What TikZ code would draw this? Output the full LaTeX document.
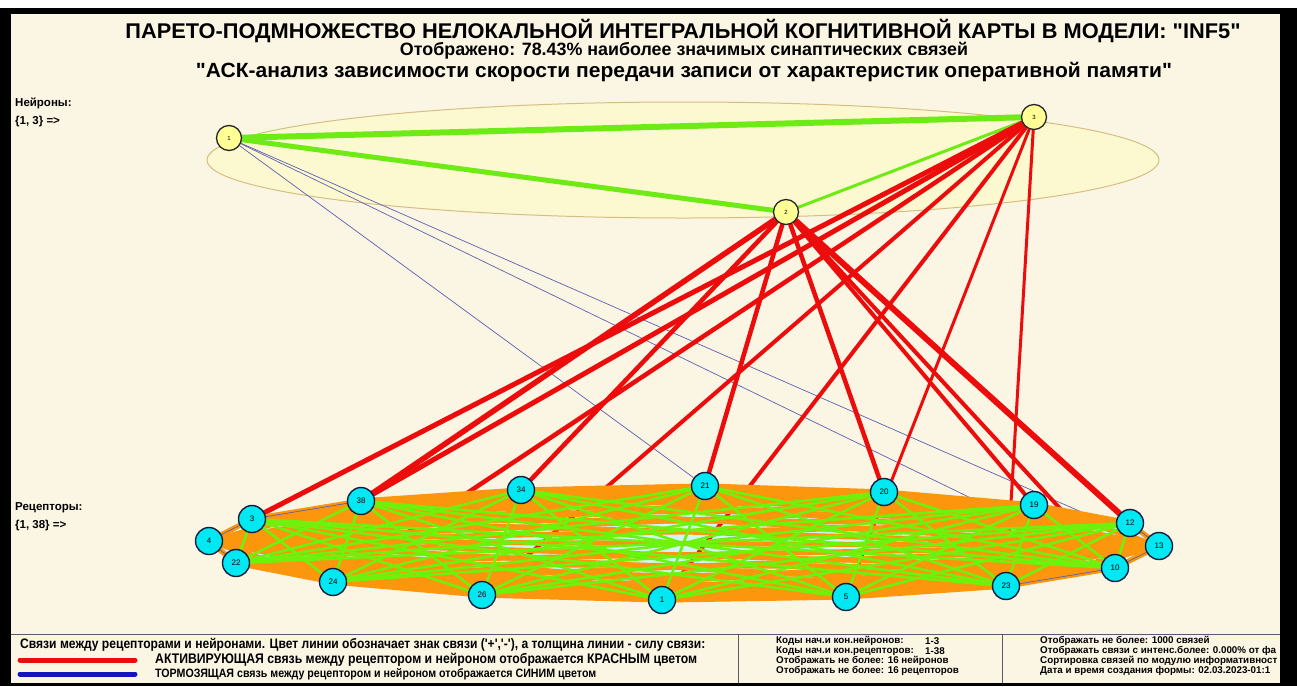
\documentclass[tikz,border=0pt]{standalone}
\usepackage{fontspec}
\setmainfont{Liberation Sans}
\newfontfamily\nar[FakeStretch=0.88]{Liberation Sans}
\newfontfamily\plain{Liberation Sans}
\usetikzlibrary{shapes.geometric}
\pgfdeclarelayer{back}
\pgfdeclarelayer{links}
\pgfdeclarelayer{meshl}
\pgfsetlayers{back,links,meshl,main}
\definecolor{bgc}{RGB}{251,245,228}
\definecolor{ellf}{RGB}{252,248,208}
\definecolor{elld}{RGB}{214,190,130}
\definecolor{neu}{RGB}{255,255,150}
\definecolor{recc}{RGB}{0,232,242}
\definecolor{recd}{RGB}{20,30,60}
\definecolor{meshor}{RGB}{252,150,12}
\definecolor{meshgr}{RGB}{110,242,12}
\definecolor{lcy}{RGB}{205,248,248}
\definecolor{redl}{RGB}{236,12,12}
\definecolor{bluel}{RGB}{95,95,175}
\definecolor{legblue}{RGB}{20,20,190}
\definecolor{neugr}{RGB}{110,235,20}
\definecolor{sepc}{RGB}{90,90,110}
\begin{document}
\begin{tikzpicture}[x=1pt,y=-1pt,
  neuron/.style={circle,draw=black!85,line width=1.3pt,fill=neu,minimum size=25pt,inner sep=0pt,font=\plain\fontsize{6}{6}\selectfont},
  receptor/.style={circle,draw=recd,line width=1.4pt,fill=recc,minimum size=27pt,inner sep=0pt,font=\plain\fontsize{8}{8}\selectfont},
  act/.style={draw=redl,line cap=round},
  inh/.style={draw=bluel,line width=0.7pt},
  nn/.style={draw=neugr,line cap=round},
  orline/.style={draw=meshor,line width=5.2pt},
  grline/.style={draw=meshgr,line width=2.6pt},
  lbl/.style={anchor=west,inner sep=0pt,font=\plain\bfseries\fontsize{11.5}{11.5}\selectfont},
  info/.style={anchor=west,inner sep=0pt,font=\plain\bfseries\fontsize{9.8}{9.8}\selectfont},
  ttl/.style={inner sep=0pt,anchor=base,font=\nar\bfseries\fontsize{22}{22}\selectfont},
  leg/.style={anchor=west,inner sep=0pt,font=\nar\bfseries\fontsize{11}{11}\selectfont}]
\useasboundingbox (0,0) rectangle (1297,686);
\begin{pgfonlayer}{back}
\fill[white] (0,0) rectangle (1297,686);
\fill[black] (0,8) rectangle (1297,686);
\fill[bgc] (11,14) rectangle (1280,683);
\draw[elld,fill=ellf,line width=1pt] (683,160) ellipse [x radius=476pt, y radius=58pt];
\draw[sepc,line width=1pt] (11,634) -- (1280,634);
\draw[sepc,line width=1pt] (738,634) -- (738,683);
\draw[sepc,line width=1pt] (1002,634) -- (1002,683);
\end{pgfonlayer}

% neurons
\node[neuron] (n1) at (229,138) {1};
\node[neuron] (n2) at (786,212) {2};
\node[neuron] (n3) at (1034,117) {3};

% receptors in hull order
\foreach \k/\x/\y/\t in {1/252/519/3, 2/361/501/38, 3/521/490/34, 4/705/486/21,
  5/884/492/20, 6/1034/505/19, 7/1130/523/12, 8/1159/546/13, 9/1115/568/10,
  10/1006/586/23, 11/846/597/5, 12/662/600/1, 13/482/595/26, 14/333/582/24,
  15/236/563/22, 16/209/541/4}
  \node[receptor,alias=r\t] (h\k) at (\x,\y) {\t};

% texts
\node[ttl] (t1) at (683,38) {\scalebox{1}[0.86]{\resizebox{1115pt}{!}{ПАРЕТО-ПОДМНОЖЕСТВО НЕЛОКАЛЬНОЙ ИНТЕГРАЛЬНОЙ КОГНИТИВНОЙ КАРТЫ В МОДЕЛИ: "INF5"}}};
\node[ttl] (t2) at (684,55) {\scalebox{1}[0.88]{\resizebox{568pt}{!}{Отображено: 78.43\% наиболее значимых синаптических связей}}};
\node[ttl] (t3) at (684,77) {\scalebox{1}[0.86]{\resizebox{976pt}{!}{"АСК-анализ зависимости скорости передачи записи от характеристик оперативной памяти"}}};
\node[lbl] (ln1) at (15,103) {Нейроны:};
\node[lbl] (ln2) at (15,122) {\{1, 3\} =>};
\node[lbl] (lr1) at (15,508) {Рецепторы:};
\node[lbl] (lr2) at (15,526) {\{1, 38\} =>};

% legend
\node[leg] (g1) at (20,645) {\resizebox{685pt}{!}{Связи между рецепторами и нейронами. Цвет линии обозначает знак связи ('+','-'), а толщина линии - силу связи:}};
\node[leg] (g2) at (155,660) {\resizebox{542pt}{!}{АКТИВИРУЮЩАЯ связь между рецептором и нейроном отображается КРАСНЫМ цветом}};
\node[leg] (g3) at (155,674) {\resizebox{441pt}{!}{ТОРМОЗЯЩАЯ связь между рецептором и нейроном отображается СИНИМ цветом}};
\coordinate (ra) at (20,660); \coordinate (rb) at (135,660);
\coordinate (ba) at (20,674); \coordinate (bb) at (135,674);
\draw[redl,line width=5pt,line cap=round] (ra) -- (rb);
\draw[legblue,line width=5pt,line cap=round] (ba) -- (bb);

\node[info] (m1) at (776,641) {Коды нач.и кон.нейронов:};
\node[info] (m1v) at (925,641) {1-3};
\node[info] (m2) at (776,651) {Коды нач.и кон.рецепторов:};
\node[info] (m2v) at (925,651) {1-38};
\node[info] (m3) at (776,661) {Отображать не более: 16 нейронов};
\node[info] (m4) at (776,671) {Отображать не более: 16 рецепторов};
\begin{scope}
\clip (1003,635) rectangle (1280,683);
\node[info] (q1) at (1040,641) {Отображать не более: 1000 связей};
\node[info] (q2) at (1040,651) {Отображать связи с интенс.более: 0.000\% от фа};
\node[info] (q3) at (1040,661) {Сортировка связей по модулю информативност};
\node[info] (q4) at (1040,671) {Дата и время создания формы: 02.03.2023-01:1};
\end{scope}

\begin{pgfonlayer}{back}
\fill[lcy] (h1.center) \foreach \k in {2,...,16}{ -- (h\k.center)} -- cycle;
\end{pgfonlayer}

\begin{pgfonlayer}{links}
% neuron-neuron
\draw[nn,line width=6pt] (n1) -- (n3);
\draw[nn,line width=5pt] (n1) -- (n2);
\draw[nn,line width=3pt] (n2) -- (n3);
% inhibitory
\draw[inh] (n1) -- (r21);
\draw[inh] (n1) -- (r10);
\draw[inh] (n1) -- (r13);
% activating from neuron 3
\draw[act,line width=5pt] (n3) -- (r3);
\draw[act,line width=5pt] (n3) -- (r38);
\draw[act,line width=4.5pt] (n3) -- (r24);
\draw[act,line width=4pt] (n3) -- (r26);
\draw[act,line width=4pt] (n3) -- (r1);
\draw[act,line width=3pt] (n3) -- (r5);
\draw[act,line width=3pt] (n3) -- (r23);
% activating from neuron 2
\draw[act,line width=5.5pt] (n2) -- (r38);
\draw[act,line width=4.5pt] (n2) -- (r34);
\draw[act,line width=4.5pt] (n2) -- (r21);
\draw[act,line width=4.5pt] (n2) -- (r20);
\draw[act,line width=4pt] (n2) -- (r19);
\draw[act,line width=4pt] (n2) -- (r10);
\draw[act,line width=6pt] (n2) -- (r12);
\end{pgfonlayer}

\begin{pgfonlayer}{meshl}
\foreach \i in {1,...,15}{
  \pgfmathtruncatemacro\jstart{\i+1}
  \foreach \j in {\jstart,...,16}{
    \pgfmathtruncatemacro\same{or(and(or(\i<9,\i==16),or(\j<9,\j==16)),and(\i>7,\j>7))}
    \ifnum\same=1 \draw[orline] (h\i.center) -- (h\j.center); \fi
  }
}
\foreach \i in {1,...,15}{
  \pgfmathtruncatemacro\jstart{\i+1}
  \foreach \j in {\jstart,...,16}{
    \pgfmathtruncatemacro\same{or(and(or(\i<9,\i==16),or(\j<9,\j==16)),and(\i>7,\j>7))}
    \ifnum\same=0 \draw[grline] (h\i.center) -- (h\j.center); \fi
  }
}
\draw[inh] (r4) -- (r3);
\draw[inh] (r4) -- (r22);
\draw[inh] (r3) -- (r38);
\draw[inh] (r23) -- (r10);
\draw[inh] (r10) -- (r13);
\draw[inh] (r12) -- (r13);
\end{pgfonlayer}
\end{tikzpicture}
\end{document}
